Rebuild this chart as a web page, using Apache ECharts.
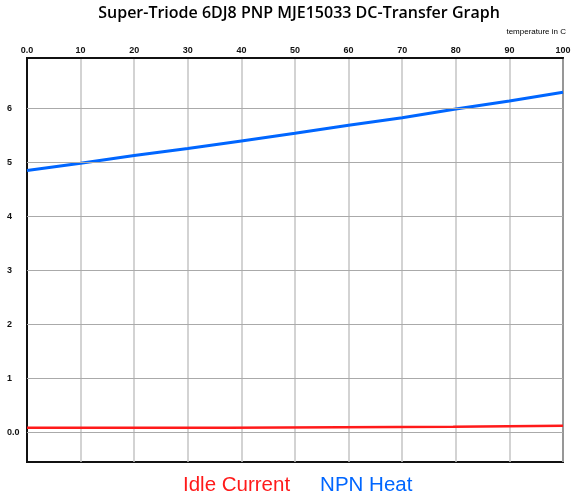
<!DOCTYPE html>
<html><head><meta charset="utf-8">
<script src="https://cdn.jsdelivr.net/npm/echarts@6/dist/echarts.min.js"></script>
<style>html,body{margin:0;padding:0;background:#fff}#c{width:578px;height:498px}</style>
</head><body><div id="c"></div>
<script>
var heatTemp = [0, 10, 20, 30, 40, 50, 60, 70, 80, 90, 100];
var heatVal  = [4.85, 4.985, 5.13, 5.26, 5.40, 5.54, 5.69, 5.83, 5.99, 6.14, 6.30];
var idleTemp = [0, 37.6, 37.6, 79.5, 79.5, 100];
var idleVal  = [0.087, 0.087, 0.107, 0.107, 0.126, 0.126];
var xTicks = [0, 10, 20, 30, 40, 50, 60, 70, 80, 90, 100];
var yTicks = [0, 1, 2, 3, 4, 5, 6];

function pairs(a, b) { return a.map(function (v, i) { return [v, b[i]]; }); }

var chart = echarts.init(document.getElementById('c'), null, {renderer: 'canvas'});
chart.setOption({
  animation: false,
  backgroundColor: '#fff',
  title: {
    text: 'Super-Triode 6DJ8 PNP MJE15033 DC-Transfer Graph',
    left: 294, top: 0, textAlign: 'center',
    textStyle: {fontFamily: 'Open Sans', fontWeight: 600, fontSize: 16, color: '#000'}
  },
  graphic: [{
    type: 'text', right: 12, top: 28,
    style: {text: 'temperature in C', fontFamily: 'Liberation Sans', fontSize: 8, fill: '#000'}
  }],
  legend: {
    top: 470, left: 173, icon: 'none', itemWidth: 0, itemGap: 25,
    textStyle: {fontFamily: 'Liberation Sans', fontSize: 20.5},
    data: [
      {name: 'Idle Current', textStyle: {color: '#ff1a1a'}},
      {name: 'NPN Heat', textStyle: {color: '#0066ff'}}
    ]
  },
  grid: {left: 27, right: 15, top: 58, bottom: 36, show: true, borderColor: '#111', borderWidth: 2},
  xAxis: {
    type: 'value', position: 'top', min: 0, max: 100, interval: 10,
    axisLine: {onZero: false, lineStyle: {color: '#111', width: 2}},
    axisTick: {show: false},
    axisLabel: {margin: 3, color: '#111', fontFamily: 'Liberation Sans', fontSize: 9, fontWeight: 'bold',
      formatter: function (v) { return v === 0 ? '0.0' : String(v); }},
    splitLine: {show: true, lineStyle: {color: '#c4c4c4', width: 1.5}}
  },
  yAxis: {
    type: 'value', min: -0.546, max: 6.935,
    axisLine: {show: true, onZero: false, lineStyle: {color: '#111', width: 2}},
    axisTick: {show: false},
    axisLabel: {show: false},
    splitLine: {show: false}
  },
  series: [
    {name: 'ygrid', type: 'line', data: [], z: 1, silent: true,
      markLine: {
        silent: true, symbol: 'none', animation: false,
        lineStyle: {color: '#aaaaaa', width: 1, type: 'solid'},
        label: {position: 'start', distance: 20, align: 'left', color: '#111',
          fontFamily: 'Liberation Sans', fontSize: 9, fontWeight: 'bold',
          formatter: function (p) { return p.value === 0 ? '0.0' : String(p.value); }},
        data: yTicks.map(function (v) { return {yAxis: v}; })
      }},
    {name: 'Idle Current', type: 'line', data: pairs(idleTemp, idleVal), showSymbol: false, z: 3,
      lineStyle: {color: '#ff1a1a', width: 2.5}, itemStyle: {color: '#ff1a1a'}},
    {name: 'NPN Heat', type: 'line', data: pairs(heatTemp, heatVal), showSymbol: false, z: 3,
      lineStyle: {color: '#0066ff', width: 3}, itemStyle: {color: '#0066ff'}}
  ]
});
</script></body></html>
